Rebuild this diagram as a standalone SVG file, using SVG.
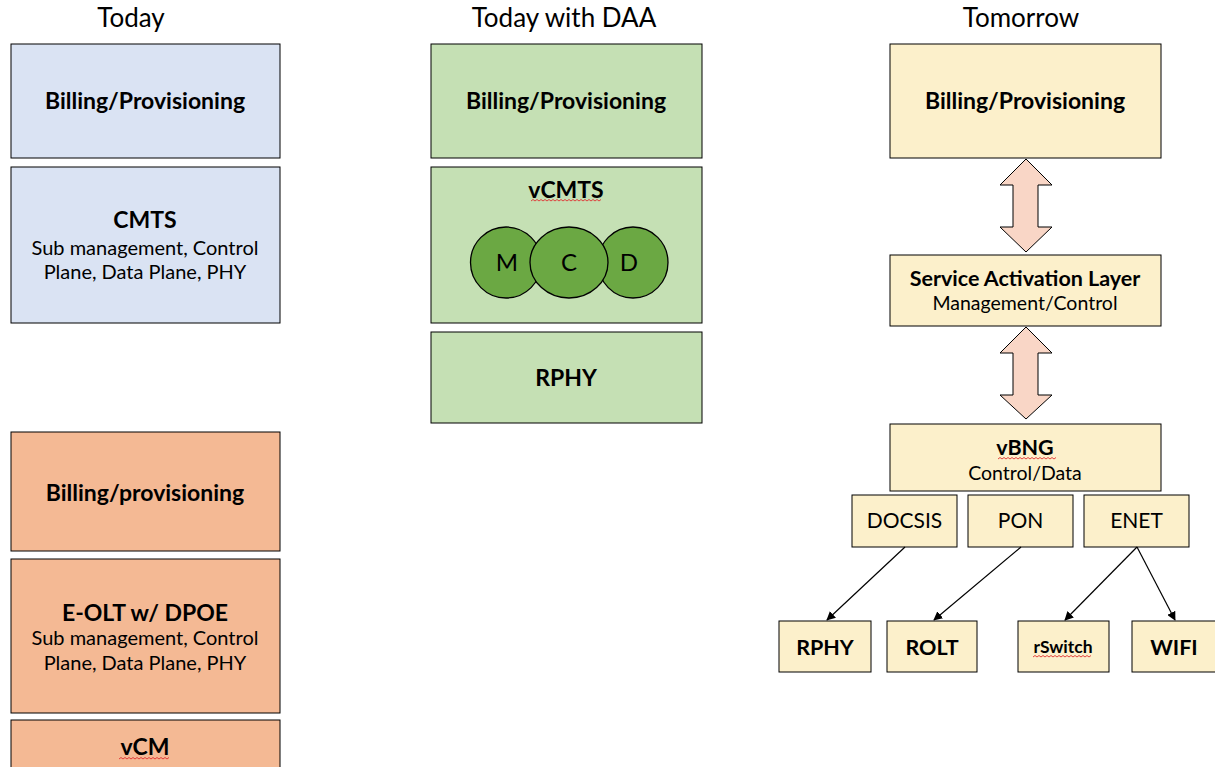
<svg xmlns="http://www.w3.org/2000/svg" width="1215" height="767" viewBox="0 0 1215 767">
<style>
text{font-family:Lato,"Open Sans","Liberation Sans",sans-serif;fill:#000;text-anchor:middle}
.t{font-size:26px}
.b{font-size:23px;font-weight:bold}
.bs{font-size:21.5px;font-weight:bold}
.r{font-size:20px}
.rs{font-size:19.5px}
.rl{font-size:21px}
.mcd{font-size:24px}
.box{stroke:#000;stroke-width:1}
.blue{fill:#DAE3F3}
.green{fill:#C5E0B4}
.orange{fill:#F4B994}
.yellow{fill:#FCF0CB}
.circ{fill:#6BA843;stroke:#000;stroke-width:1.3}
.dbl{fill:#F9D6C6;stroke:#000;stroke-width:1}
.sq{fill:none;stroke:#E03030;stroke-width:0.9}
.con{stroke:#000;stroke-width:1.2;fill:none;marker-end:url(#ah)}
</style>
<defs>
<marker id="ah" viewBox="0 0 10 10" refX="9" refY="5" markerWidth="9" markerHeight="9" markerUnits="userSpaceOnUse" orient="auto">
<path d="M0,0 L10,5 L0,10 z" fill="#000"/>
</marker>
</defs>
<rect width="1215" height="767" fill="#fff"/>

<g id="titles">
<text class="t" x="131" y="27">Today</text>
<text class="t" x="564" y="27">Today with DAA</text>
<text class="t" x="1021" y="27">Tomorrow</text>
</g>

<g id="today-billing">
<rect class="box blue" x="11" y="44" width="269" height="114"/>
<text class="b" x="145" y="109">Billing/Provisioning</text>
</g>
<g id="today-cmts">
<rect class="box blue" x="11" y="167" width="269" height="156"/>
<text class="b" x="145" y="228">CMTS</text>
<text class="r" x="145" y="255">Sub management, Control</text>
<text class="r" x="145" y="279">Plane, Data Plane, PHY</text>
</g>
<g id="today-billing2">
<rect class="box orange" x="11" y="432" width="269" height="119"/>
<text class="b" x="145" y="501">Billing/provisioning</text>
</g>
<g id="today-eolt">
<rect class="box orange" x="11" y="559" width="269" height="154"/>
<text class="b" x="145" y="621">E-OLT w/ DPOE</text>
<text class="r" x="145" y="645">Sub management, Control</text>
<text class="r" x="145" y="670">Plane, Data Plane, PHY</text>
</g>
<g id="today-vcm">
<rect class="box orange" x="11" y="720" width="269" height="60"/>
<text class="b" x="145" y="755">vCM</text>
<path class="sq" d="M119,759 l2,-1.5 l2,1.5 l2,-1.5 l2,1.5 l2,-1.5 l2,1.5 l2,-1.5 l2,1.5 l2,-1.5 l2,1.5 l2,-1.5 l2,1.5 l2,-1.5 l2,1.5 l2,-1.5 l2,1.5 l2,-1.5 l2,1.5 l2,-1.5 l2,1.5 l2,-1.5 l2,1.5 l2,-1.5 l2,1.5 l2,-1.5"/>
</g>

<g id="daa-billing">
<rect class="box green" x="431" y="44" width="271" height="114"/>
<text class="b" x="566" y="109">Billing/Provisioning</text>
</g>
<g id="daa-vcmts">
<rect class="box green" x="431" y="167" width="271" height="156"/>
<text class="b" x="566" y="198">vCMTS</text>
<path class="sq" d="M531,201 l2,-1.5 l2,1.5 l2,-1.5 l2,1.5 l2,-1.5 l2,1.5 l2,-1.5 l2,1.5 l2,-1.5 l2,1.5 l2,-1.5 l2,1.5 l2,-1.5 l2,1.5 l2,-1.5 l2,1.5 l2,-1.5 l2,1.5 l2,-1.5 l2,1.5 l2,-1.5 l2,1.5 l2,-1.5 l2,1.5 l2,-1.5 l2,1.5 l2,-1.5 l2,1.5 l2,-1.5 l2,1.5 l2,-1.5 l2,1.5 l2,-1.5 l2,1.5 l2,-1.5"/>
<ellipse class="circ" cx="506" cy="262.5" rx="35.5" ry="35.5"/>
<ellipse class="circ" cx="633" cy="262.5" rx="35" ry="35.5"/>
<ellipse class="circ" cx="569" cy="262.5" rx="39" ry="35.5"/>
<text class="mcd" x="507" y="271">M</text>
<text class="mcd" x="569" y="271">C</text>
<text class="mcd" x="629" y="271">D</text>
</g>
<g id="daa-rphy">
<rect class="box green" x="431" y="332" width="271" height="91"/>
<text class="b" x="566" y="386">RPHY</text>
</g>

<g id="tm-billing">
<rect class="box yellow" x="890" y="44" width="271" height="114"/>
<text class="b" x="1025" y="109">Billing/Provisioning</text>
</g>
<g id="tm-sal">
<rect class="box yellow" x="890" y="255" width="271" height="71"/>
<text class="bs" x="1025" y="286">Service Activation Layer</text>
<text class="rs" x="1025" y="310">Management/Control</text>
</g>
<g id="tm-vbng">
<rect class="box yellow" x="890" y="424" width="271" height="67"/>
<text class="bs" x="1025" y="455">vBNG</text>
<path class="sq" d="M998,459 l2,-1.5 l2,1.5 l2,-1.5 l2,1.5 l2,-1.5 l2,1.5 l2,-1.5 l2,1.5 l2,-1.5 l2,1.5 l2,-1.5 l2,1.5 l2,-1.5 l2,1.5 l2,-1.5 l2,1.5 l2,-1.5 l2,1.5 l2,-1.5 l2,1.5 l2,-1.5 l2,1.5 l2,-1.5 l2,1.5 l2,-1.5 l2,1.5 l2,-1.5 l2,1.5 l2,-1.5"/>
<text class="rs" x="1025" y="480">Control/Data</text>
</g>
<g id="tm-docsis">
<rect class="box yellow" x="852" y="495" width="105" height="52"/>
<text class="rl" x="904.5" y="528">DOCSIS</text>
</g>
<g id="tm-pon">
<rect class="box yellow" x="968" y="495" width="105" height="52"/>
<text class="rl" x="1020.5" y="528">PON</text>
</g>
<g id="tm-enet">
<rect class="box yellow" x="1084" y="495" width="105" height="52"/>
<text class="rl" x="1136.5" y="528">ENET</text>
</g>
<g id="tm-rphy">
<rect class="box yellow" x="779" y="621" width="92" height="51"/>
<text class="b" x="825" y="655" style="font-size:21.5px">RPHY</text>
</g>
<g id="tm-rolt">
<rect class="box yellow" x="887" y="621" width="90" height="51"/>
<text class="b" x="932" y="655" style="font-size:21.5px">ROLT</text>
</g>
<g id="tm-rswitch">
<rect class="box yellow" x="1018" y="621" width="91" height="51"/>
<text x="1063" y="653" style="font-size:17.5px;font-weight:bold">rSwitch</text>
<path class="sq" d="M1033,657 l2,-1.5 l2,1.5 l2,-1.5 l2,1.5 l2,-1.5 l2,1.5 l2,-1.5 l2,1.5 l2,-1.5 l2,1.5 l2,-1.5 l2,1.5 l2,-1.5 l2,1.5 l2,-1.5 l2,1.5 l2,-1.5 l2,1.5 l2,-1.5 l2,1.5 l2,-1.5 l2,1.5 l2,-1.5 l2,1.5 l2,-1.5 l2,1.5 l2,-1.5 l2,1.5 l2,-1.5"/>
</g>
<g id="tm-wifi">
<rect class="box yellow" x="1132" y="621" width="90" height="51"/>
<text class="b" x="1174" y="655" style="font-size:21.5px">WIFI</text>
</g>

<g id="connectors">
<path class="dbl" d="M1026,159 L1052,185 L1038,185 L1038,227 L1052,227 L1026,252 L1000,227 L1013,227 L1013,185 L1000,185 Z"/>
<path class="dbl" d="M1026,327 L1052,353 L1038,353 L1038,395 L1052,395 L1026,419 L1000,395 L1013,395 L1013,353 L1000,353 Z"/>
<line class="con" x1="905" y1="547" x2="827" y2="620"/>
<line class="con" x1="1021" y1="547" x2="934" y2="620"/>
<line class="con" x1="1137" y1="547" x2="1065" y2="620"/>
<line class="con" x1="1137" y1="547" x2="1175" y2="620"/>
</g>
</svg>
